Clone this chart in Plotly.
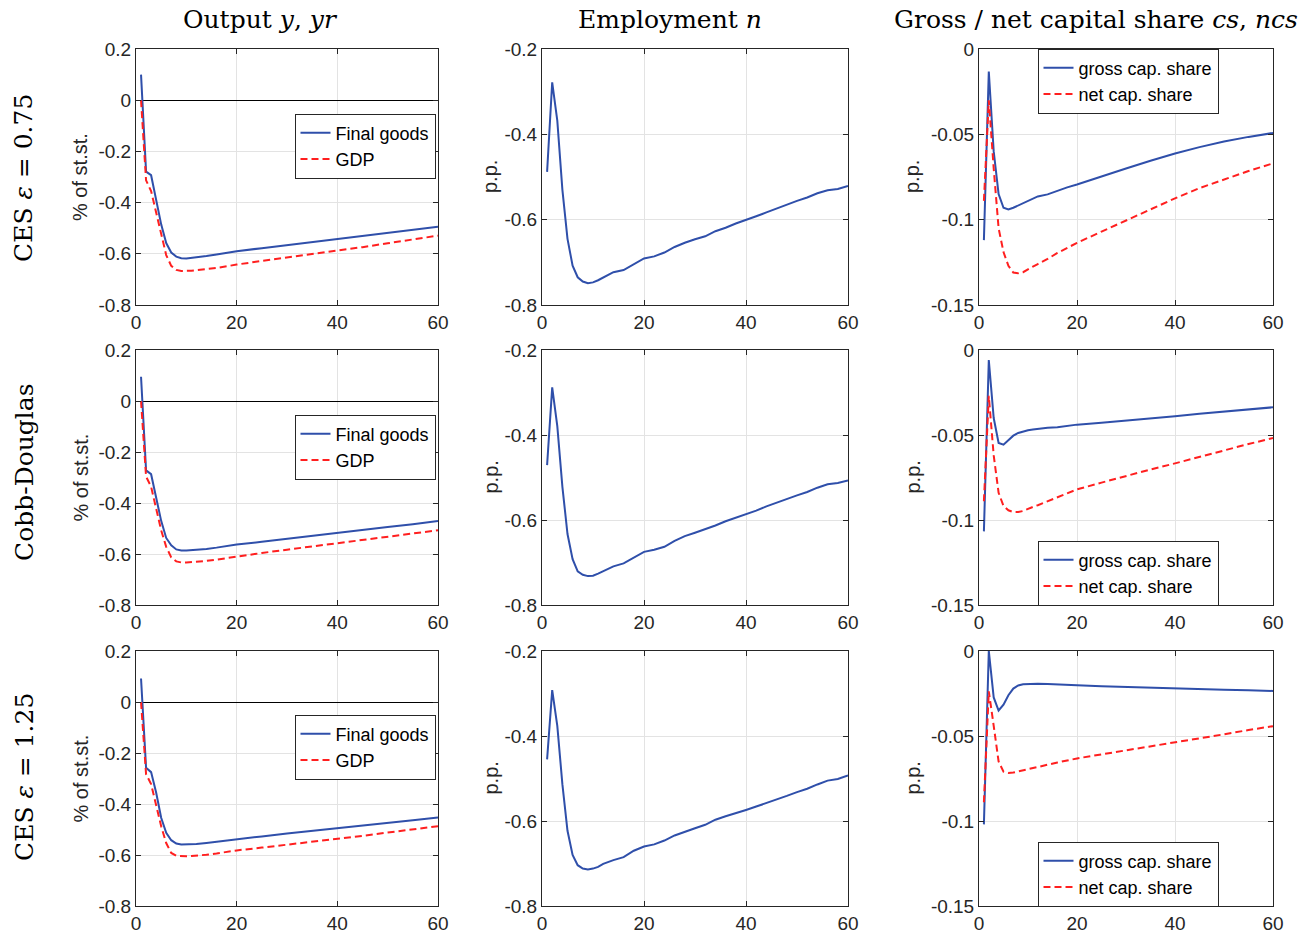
import plotly.graph_objects as go

# ---------------- data ----------------
periods = [1, 2, 3, 4, 5, 6, 7, 8, 9, 10, 11, 12, 14, 16, 18, 20, 25, 30, 35, 40, 45, 50, 55, 60]
periods_emp = [1, 2, 3, 4, 5, 6, 7, 8, 9, 10, 11, 12, 14, 16, 18, 20, 22, 24, 26, 28, 30, 32, 34, 36,
               38, 40, 42, 44, 46, 48, 50, 52, 54, 56, 58, 60]

row_labels = ["CES <i>ε</i> = 0.75", "Cobb-Douglas", "CES <i>ε</i> = 1.25"]
col_titles = ["Output <i>y</i>, <i>yr</i>", "Employment <i>n</i>",
              "Gross / net capital share <i>cs</i>, <i>ncs</i>"]
output_names = ["Final goods", "GDP"]
share_names = ["gross cap. share", "net cap. share"]

# Output y (final goods) and yr (GDP), % of steady state
final_goods_ces075 = [0.100, -0.279, -0.293, -0.390, -0.485, -0.558, -0.595, -0.611, -0.617, -0.618, -0.616, -0.614,
                      -0.609, -0.603, -0.597, -0.590, -0.578, -0.566, -0.554, -0.542, -0.530, -0.518, -0.506, -0.494]
gdp_ces075 = [0.000, -0.313, -0.355, -0.440, -0.533, -0.605, -0.647, -0.663, -0.667, -0.667, -0.666, -0.664,
              -0.660, -0.655, -0.649, -0.642, -0.628, -0.615, -0.602, -0.589, -0.574, -0.559, -0.544, -0.529]
final_goods_cd = [0.095, -0.272, -0.287, -0.375, -0.470, -0.537, -0.566, -0.582, -0.586, -0.586, -0.585, -0.584,
                  -0.580, -0.575, -0.569, -0.563, -0.552, -0.540, -0.529, -0.517, -0.506, -0.494, -0.483, -0.471]
gdp_cd = [0.000, -0.296, -0.336, -0.418, -0.507, -0.572, -0.613, -0.629, -0.633, -0.633, -0.632, -0.631,
          -0.627, -0.622, -0.616, -0.609, -0.596, -0.583, -0.570, -0.557, -0.545, -0.532, -0.520, -0.507]
final_goods_ces125 = [0.092, -0.258, -0.275, -0.355, -0.454, -0.513, -0.542, -0.555, -0.559, -0.559, -0.558, -0.557,
                      -0.553, -0.548, -0.543, -0.537, -0.527, -0.516, -0.506, -0.495, -0.485, -0.474, -0.464, -0.453]
gdp_ces125 = [0.000, -0.283, -0.322, -0.401, -0.487, -0.553, -0.592, -0.603, -0.605, -0.605, -0.604, -0.603,
              -0.599, -0.594, -0.588, -0.582, -0.571, -0.560, -0.549, -0.537, -0.525, -0.512, -0.500, -0.487]

# Employment n, p.p.
employment_ces075 = [-0.488, -0.278, -0.368, -0.530, -0.645, -0.708, -0.735, -0.745, -0.749, -0.747, -0.742, -0.735,
                     -0.723, -0.718, -0.704, -0.691, -0.686, -0.677, -0.664, -0.654, -0.646, -0.639, -0.627, -0.619,
                     -0.609, -0.601, -0.592, -0.583, -0.574, -0.564, -0.556, -0.548, -0.538, -0.531, -0.528, -0.521]
employment_cd = [-0.471, -0.288, -0.379, -0.522, -0.633, -0.692, -0.721, -0.729, -0.732, -0.731, -0.726, -0.720,
                 -0.709, -0.702, -0.688, -0.675, -0.670, -0.663, -0.649, -0.638, -0.630, -0.622, -0.613, -0.603,
                 -0.595, -0.587, -0.578, -0.568, -0.559, -0.550, -0.542, -0.534, -0.524, -0.516, -0.513, -0.507]
employment_ces125 = [-0.455, -0.292, -0.376, -0.514, -0.623, -0.680, -0.704, -0.712, -0.714, -0.712, -0.708, -0.701,
                     -0.692, -0.685, -0.670, -0.660, -0.655, -0.646, -0.634, -0.625, -0.617, -0.609, -0.597, -0.589,
                     -0.582, -0.574, -0.566, -0.558, -0.549, -0.541, -0.532, -0.524, -0.514, -0.505, -0.501, -0.493]

# Gross / net capital share, p.p.
gross_share_ces075 = [-0.112, -0.0132, -0.060, -0.085, -0.093, -0.094, -0.093, -0.0917, -0.0905, -0.0893, -0.0878, -0.0864,
                      -0.0852, -0.0830, -0.0811, -0.0794, -0.0745, -0.0700, -0.0655, -0.0612, -0.0575, -0.0542, -0.0515, -0.0492]
net_share_ces075 = [-0.089, -0.030, -0.070, -0.105, -0.119, -0.127, -0.131, -0.1314, -0.1308, -0.129, -0.1275, -0.126,
                    -0.123, -0.1195, -0.1166, -0.1136, -0.107, -0.1005, -0.094, -0.0875, -0.0815, -0.0765, -0.0715, -0.067]
gross_share_cd = [-0.1067, -0.0059, -0.040, -0.0547, -0.0557, -0.0528, -0.0504, -0.0488, -0.0479, -0.0472, -0.0468, -0.0464,
                  -0.0458, -0.0455, -0.0446, -0.0439, -0.0428, -0.0416, -0.0403, -0.0390, -0.0375, -0.0362, -0.0348, -0.0337]
net_share_cd = [-0.089, -0.027, -0.062, -0.084, -0.0917, -0.0943, -0.0953, -0.0953, -0.0947, -0.0933, -0.0923, -0.0913,
                -0.089, -0.0864, -0.0844, -0.082, -0.078, -0.074, -0.0703, -0.0667, -0.0628, -0.059, -0.0553, -0.0518]
gross_share_ces125 = [-0.102, 0.0, -0.0273, -0.035, -0.0316, -0.026, -0.0221, -0.0203, -0.0196, -0.0194, -0.0193, -0.0192,
                      -0.0194, -0.0198, -0.0200, -0.0202, -0.0207, -0.0212, -0.0217, -0.0220, -0.0224, -0.0228, -0.0231, -0.0235]
net_share_ces125 = [-0.089, -0.0237, -0.044, -0.065, -0.071, -0.0717, -0.0715, -0.0708, -0.0702, -0.0696, -0.0689, -0.0682,
                    -0.0668, -0.0656, -0.0644, -0.0632, -0.0608, -0.0585, -0.0562, -0.054, -0.0515, -0.049, -0.0465, -0.0442]

x_ticks = [0, 20, 40, 60]
y_ticks_output = [-0.8, -0.6, -0.4, -0.2, 0, 0.2]
y_ticks_emp = [-0.8, -0.6, -0.4, -0.2]
y_ticks_share = [-0.15, -0.1, -0.05, 0]
y_ticktext_output = ["-0.8", "-0.6", "-0.4", "-0.2", "0", "0.2"]
y_ticktext_emp = ["-0.8", "-0.6", "-0.4", "-0.2"]
y_ticktext_share = ["-0.15", "-0.1", "-0.05", "0"]

# ---------------- figure ----------------
W, H = 1316, 937
BLUE = "#2f4faa"
RED = "#ff1f1f"
AX = "#262626"
GRID = "#e3e3e3"
SANS = "Liberation Sans, Arial, sans-serif"
SERIF = "DejaVu Serif, Liberation Serif, serif"

col_px = [(136, 438), (542, 848), (979, 1273)]
row_px = [(49, 305), (350, 605), (651, 906)]

output_data = [(final_goods_ces075, gdp_ces075), (final_goods_cd, gdp_cd), (final_goods_ces125, gdp_ces125)]
emp_data = [employment_ces075, employment_cd, employment_ces125]
share_data = [(gross_share_ces075, net_share_ces075), (gross_share_cd, net_share_cd),
              (gross_share_ces125, net_share_ces125)]

fig = go.Figure()
layout = dict(width=W, height=H, margin=dict(l=0, r=0, t=0, b=0, autoexpand=False),
              paper_bgcolor="white", plot_bgcolor="white", annotations=[])

legend_centers_y = {(0, 0): 146, (1, 0): 447, (2, 0): 747, (0, 2): 81, (1, 2): 573, (2, 2): 874}
legend_centers_x = {0: 365, 2: 1128}
legend_count = 0

for r in range(3):
    for c in range(3):
        k = r * 3 + c + 1
        xa = "x" if k == 1 else f"x{k}"
        ya = "y" if k == 1 else f"y{k}"
        xkey = "xaxis" if k == 1 else f"xaxis{k}"
        ykey = "yaxis" if k == 1 else f"yaxis{k}"
        x0, x1 = col_px[c]
        t0, t1 = row_px[r]

        if c == 0:
            yr, yt, ytt = [-0.8, 0.2], y_ticks_output, y_ticktext_output
        elif c == 1:
            yr, yt, ytt = [-0.8, -0.2], y_ticks_emp, y_ticktext_emp
        else:
            yr, yt, ytt = [-0.15, 0], y_ticks_share, y_ticktext_share

        common = dict(showline=True, linecolor=AX, linewidth=1, mirror="ticks",
                      ticks="inside", ticklen=5, tickcolor=AX, tickwidth=1,
                      showgrid=True, gridcolor=GRID, gridwidth=1, automargin=False,
                      tickfont=dict(family=SANS, size=19, color=AX))
        layout[xkey] = dict(common, domain=[x0 / W, x1 / W], range=[0, 60], tickvals=x_ticks,
                            ticktext=[str(v) for v in x_ticks], anchor=ya, zeroline=False)
        layout[ykey] = dict(common, domain=[1 - t1 / H, 1 - t0 / H], range=yr, tickvals=yt,
                            ticktext=ytt, anchor=xa,
                            zeroline=(c == 0), zerolinecolor="#000000", zerolinewidth=1)

        leg_name = None
        if c != 1:
            legend_count += 1
            leg_name = "legend" if legend_count == 1 else f"legend{legend_count}"
            layout[leg_name] = dict(x=legend_centers_x[c] / W, y=1 - legend_centers_y[(r, c)] / H,
                                    xanchor="center", yanchor="middle", bgcolor="white",
                                    bordercolor=AX, borderwidth=1,
                                    font=dict(family=SANS, size=18, color="#000000"),
                                    itemwidth=30, tracegroupgap=0)

        if c == 0:
            a, b = output_data[r]
            fig.add_trace(go.Scatter(x=periods, y=a, mode="lines", name=output_names[0],
                                     line=dict(color=BLUE, width=2), xaxis=xa, yaxis=ya,
                                     legend=leg_name))
            fig.add_trace(go.Scatter(x=periods, y=b, mode="lines", name=output_names[1],
                                     line=dict(color=RED, width=2, dash="7px,4px"), xaxis=xa, yaxis=ya,
                                     legend=leg_name))
        elif c == 1:
            fig.add_trace(go.Scatter(x=periods_emp, y=emp_data[r], mode="lines", name="Employment",
                                     line=dict(color=BLUE, width=2), xaxis=xa, yaxis=ya,
                                     showlegend=False))
        else:
            a, b = share_data[r]
            fig.add_trace(go.Scatter(x=periods, y=a, mode="lines", name=share_names[0],
                                     line=dict(color=BLUE, width=2), xaxis=xa, yaxis=ya,
                                     legend=leg_name))
            fig.add_trace(go.Scatter(x=periods, y=b, mode="lines", name=share_names[1],
                                     line=dict(color=RED, width=2, dash="7px,4px"), xaxis=xa, yaxis=ya,
                                     legend=leg_name))

        # y-axis labels
        ylab = "% of st.st." if c == 0 else "p.p."
        ylab_x = [80, 490, 912][c]
        layout["annotations"].append(dict(text=ylab, x=ylab_x / W, y=1 - (t0 + t1) / 2 / H,
                                          xref="paper", yref="paper", showarrow=False, textangle=-90,
                                          xanchor="center", yanchor="middle",
                                          font=dict(family=SANS, size=20, color=AX)))

# column titles
for c, (txt, cx) in enumerate(zip(col_titles, [260, 670, 1096])):
    layout["annotations"].append(dict(text=txt, x=cx / W, y=1 - 20 / H, xref="paper", yref="paper",
                                      showarrow=False, xanchor="center", yanchor="middle",
                                      font=dict(family=SERIF, size=25, color="#000000")))

# row labels
for r, (txt, cy) in enumerate(zip(row_labels, [178, 472, 777])):
    layout["annotations"].append(dict(text=txt, x=24 / W, y=1 - cy / H, xref="paper", yref="paper",
                                      showarrow=False, textangle=-90, xanchor="center", yanchor="middle",
                                      font=dict(family=SERIF, size=25, color="#000000")))

fig.update_layout(**layout)
fig.write_html("out.html", config={"displayModeBar": False},
               post_script="document.body.style.margin='0px';document.body.style.overflow='hidden';")
